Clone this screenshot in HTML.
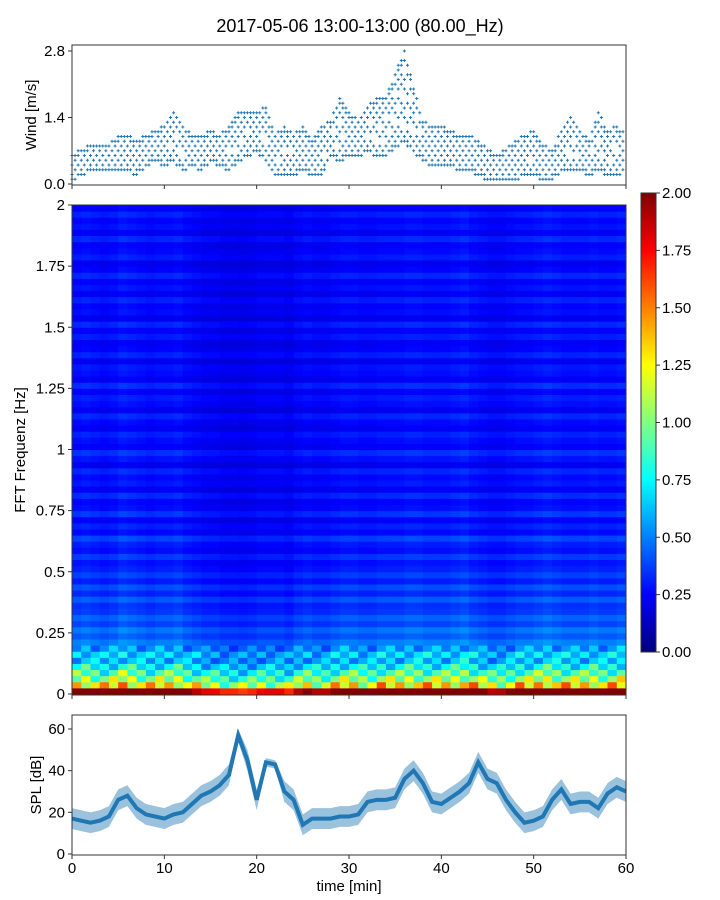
<!DOCTYPE html>
<html><head><meta charset="utf-8"><style>
body{margin:0;background:#fff;}
svg{display:block;font-family:"Liberation Sans",sans-serif;}
</style></head><body>
<svg id="fig" width="720" height="900">
<text x="360" y="32" font-size="18" text-anchor="middle">2017-05-06 13:00-13:00 (80.00_Hz)</text>
<g id="wind"></g>
<g id="spec"></g>
<g id="cbar"></g>
<g id="spl"></g>
<text transform="translate(36,115) rotate(-90)" font-size="15" text-anchor="middle">Wind [m/s]</text>
<text transform="translate(25,450) rotate(-90)" font-size="15" text-anchor="middle">FFT Frequenz [Hz]</text>
<text transform="translate(41,785) rotate(-90)" font-size="15" text-anchor="middle">SPL [dB]</text>
<text x="349" y="891" font-size="15" text-anchor="middle">time [min]</text>
</svg>
<script>
const windLo=[0.1,0.2,0.3,0.3,0.3,0.3,0.3,0.2,0.4,0.5,0.4,0.5,0.3,0.4,0.3,0.5,0.4,0.3,0.5,0.6,0.7,0.5,0.2,0.2,0.2,0.3,0.2,0.2,0.6,0.5,0.6,0.6,0.7,0.6,0.6,0.8,0.9,0.7,0.5,0.4,0.4,0.4,0.3,0.3,0.2,0.1,0.1,0.1,0.1,0.2,0.2,0.1,0.1,0.3,0.3,0.3,0.2,0.3,0.2,0.2,0.3];
const windHi=[0.6,0.7,0.8,0.8,0.8,1.0,1.0,0.9,1.0,1.1,1.2,1.5,1.2,1.0,1.0,1.1,1.0,1.2,1.5,1.5,1.5,1.6,1.0,1.2,1.0,1.2,0.9,1.2,1.3,1.8,1.5,1.3,1.6,1.8,1.8,2.3,2.8,2.0,1.3,1.2,1.2,1.1,1.0,1.0,0.9,0.7,0.6,0.7,0.9,1.0,1.1,0.8,0.7,1.1,1.4,1.1,0.9,1.5,1.1,1.2,1.0];
const windTicks=[0.0,1.4,2.8];
const splMid=[17,16,15,16,18,26,28,22,19,18,17,19,20,24,28,30,33,38,57,45,26,44,43,30,26,14,17,17,17,18,18,19,25,26,26,27,36,40,34,25,24,27,30,34,44,36,34,26,20,15,16,18,26,31,24,25,25,22,29,32,30];
const splSpread=[5,5,5,5,5,5,5,5,5,5,5,5,5,5,5,5,5,5,3,5,5,2,2,5,5,5,5,5,5,5,5,5,5,5,5,5,5,5,5,5,5,5,5,5,5,5,5,5,5,5,5,5,5,5,5,5,5,5,5,5,5];
const splTicks=[0,20,40,60];
const timeTicks=[0,10,20,30,40,50,60];
const freqTicks=[0,0.25,0.5,0.75,1,1.25,1.5,1.75,2];
const freqLabels=["0","0.25","0.5","0.75","1","1.25","1.5","1.75","2"];
const cbarTicks=[0,0.25,0.5,0.75,1,1.25,1.5,1.75,2];
const specRow=[2.1,1.3,1.05,0.9,0.75,0.62,0.66,0.55,0.5,0.42,0.48,0.38,0.44,0.36,0.34,0.42,0.32,0.4,0.3,0.37,0.31,0.28,0.36,0.27,0.3,0.38,0.26,0.31,0.24,0.35,0.27,0.25,0.33,0.23,0.29,0.26,0.32,0.22,0.28,0.34,0.24,0.27,0.31,0.23,0.26,0.32,0.22,0.27,0.3,0.24,0.33,0.23,0.27,0.29,0.22,0.31,0.25,0.23,0.3,0.24,0.32,0.22,0.27,0.25,0.31,0.23,0.28,0.24,0.32,0.25,0.22,0.3,0.26,0.24,0.32,0.23,0.28,0.25,0.31,0.24];
const specCol=[1.0,1.05,1.0,0.95,1.0,1.1,1.05,1.0,0.95,1.0,1.0,1.05,0.95,0.9,0.85,0.85,0.8,0.8,0.78,0.8,0.85,0.85,0.85,0.8,0.9,0.95,0.9,0.9,0.95,1.0,1.0,0.95,0.95,1.0,1.0,1.0,1.05,1.05,1.0,1.0,1.0,1.05,1.1,1.0,0.95,0.9,0.9,0.95,1.0,1.0,1.05,1.1,1.05,1.0,1.0,1.0,1.05,1.0,1.0,1.05];

const NS="http://www.w3.org/2000/svg";
const L=72,R=626;
const xT=t=>L+(R-L)*t/60;
const yW=v=>184-v*(184-51)/2.8;
const yF=f=>694-f*(694-205)/2;
const yS=v=>854-v*(854-729)/60;
const yC=v=>652-v*(652-193)/2;
function mk(tag,attrs,parent){const e=document.createElementNS(NS,tag);for(const k in attrs)e.setAttribute(k,attrs[k]);parent.appendChild(e);return e;}
function jet(x){x=Math.max(0,Math.min(1,x));const c=v=>Math.round(255*Math.max(0,Math.min(1,v)));
return `rgb(${c(1.5-Math.abs(4*x-3))},${c(1.5-Math.abs(4*x-2))},${c(1.5-Math.abs(4*x-1))})`;}

// wind panel
const W=document.getElementById('wind');
for(let m=0;m<60;m++){
  for(let k=0;k<3;k++){
    const t=m+k/3;
    const lo=windLo[m]+(windLo[m+1]-windLo[m])*k/3, hi=windHi[m]+(windHi[m+1]-windHi[m])*k/3;
    const a=Math.round(lo*10),b=Math.round(hi*10);
    for(let v=a;v<=b;v++){
      if((v+k+m)%2&&v!==a&&v!==b)continue;
      if(b-a>8&&v>a+2&&v<b-3&&(v+m)%3===0)continue;
      const x=xT(t),y=yW(v/10);
      const p=mk('path',{d:`M${x-1.5},${y}h3M${x},${y-1.5}v3`,stroke:'#1f77b4','stroke-width':1},W);
      
      
    }
  }
}
mk('rect',{x:L,y:45,width:R-L,height:140,fill:'none',stroke:'#333','stroke-width':1},W);
windTicks.forEach(v=>{mk('line',{x1:L-4,x2:L,y1:yW(v),y2:yW(v),stroke:'#333'},W);
 const t=mk('text',{x:L-7,y:yW(v)+5,'font-size':15,'text-anchor':'end'},W);t.textContent=v.toFixed(1);
 });
timeTicks.forEach(v=>mk('line',{x1:xT(v),x2:xT(v),y1:185,y2:189,stroke:'#333'},W));

// spectrogram
const S=document.getElementById('spec');
const rh=(694-205)/specRow.length;
for(let c=0;c<specCol.length;c++){for(let r=0;r<specRow.length;r++){
  const lowMix=(r>0&&r<8)?(((c*7+r*3)%5)-2)*0.12:0;
  const v=specRow[r]*specCol[c]*(1+lowMix);
  const e=mk('rect',{x:xT(c),y:yF((r+1)*2/specRow.length),width:xT(c+1)-xT(c)+0.5,height:rh+0.5,fill:jet(v/2)},S);
  
  
}}
mk('rect',{x:L,y:205,width:R-L,height:490,fill:'none',stroke:'#333'},S);
freqTicks.forEach((v,i)=>{mk('line',{x1:L-4,x2:L,y1:yF(v),y2:yF(v),stroke:'#333'},S);
 const t=mk('text',{x:L-7,y:yF(v)+5,'font-size':15,'text-anchor':'end'},S);t.textContent=freqLabels[i];
 });
timeTicks.forEach(v=>mk('line',{x1:xT(v),x2:xT(v),y1:695,y2:699,stroke:'#333'},S));

// colorbar
const C=document.getElementById('cbar');
const defs=mk('defs',{},C);const g=mk('linearGradient',{id:'jg',x1:0,y1:1,x2:0,y2:0},defs);
for(let i=0;i<=8;i++)mk('stop',{offset:i/8,'stop-color':jet(i/8)},g);
mk('rect',{x:641,y:193,width:15,height:459,fill:'url(#jg)',stroke:'#333'},C);
cbarTicks.forEach(v=>{mk('line',{x1:656,x2:660,y1:yC(v),y2:yC(v),stroke:'#333'},C);
 const t=mk('text',{x:662,y:yC(v)+5,'font-size':15},C);t.textContent=v.toFixed(2);
 });

// SPL
const P=document.getElementById('spl');
let up='',dn='',mid='';
splMid.forEach((v,i)=>{up+=(i?'L':'M')+xT(i)+','+yS(v+splSpread[i]);mid+=(i?'L':'M')+xT(i)+','+yS(v);});
for(let i=splMid.length-1;i>=0;i--)dn+='L'+xT(i)+','+yS(splMid[i]-splSpread[i]);
const band=mk('path',{d:up+dn+'Z',fill:'#1f77b4','fill-opacity':0.45},P);

const ln=mk('path',{d:mid,fill:'none',stroke:'#1f77b4','stroke-width':4},P);

mk('rect',{x:L,y:715,width:R-L,height:140,fill:'none',stroke:'#333'},P);
splTicks.forEach(v=>{mk('line',{x1:L-4,x2:L,y1:yS(v),y2:yS(v),stroke:'#333'},P);
 const t=mk('text',{x:L-7,y:yS(v)+5,'font-size':15,'text-anchor':'end'},P);t.textContent=v;
 });
timeTicks.forEach(v=>{mk('line',{x1:xT(v),x2:xT(v),y1:855,y2:859,stroke:'#333'},P);
 const t=mk('text',{x:xT(v),y:873,'font-size':15,'text-anchor':'middle'},P);t.textContent=v;
 });
</script>
</body></html>
